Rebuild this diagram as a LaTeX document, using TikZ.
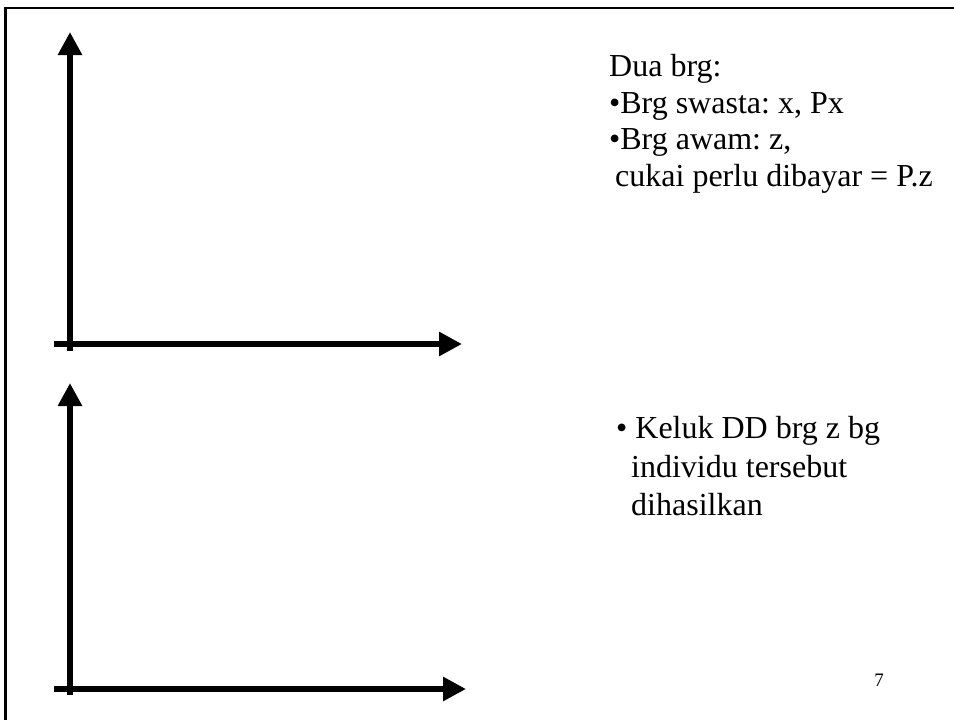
\documentclass[tikz,border=0pt]{standalone}
\usepackage{fontspec}
\setmainfont{Liberation Serif}
\usepackage{tikz}
\usetikzlibrary{positioning, arrows.meta}
\frenchspacing

\begin{document}
\begin{tikzpicture}[x=1pt, y=-1pt,
	axis/.style={line width=6pt, -{Triangle[length=23pt, width=23pt]}},
	txt/.style={anchor=base west, inner sep=0pt, font=\fontsize{32}{37}\selectfont},
	pagenum/.style={anchor=base, inner sep=0pt, font=\fontsize{19}{20}\selectfont}]
	\useasboundingbox (0,0) rectangle (954,720);
	\draw[line width=2.5pt] (5.5,720) -- (5.5,8) -- (954,8);
	\coordinate (ytopA) at (70,32);
	\coordinate (ybotA) at (70,351);
	\coordinate (xleftA) at (54,344);
	\coordinate (xrightA) at (462,344);
	\coordinate (ytopB) at (70,383);
	\coordinate (ybotB) at (70,695);
	\coordinate (xleftB) at (54,689);
	\coordinate (xrightB) at (466,689);
	\draw[axis] (ybotA) -- (ytopA);
	\draw[axis] (xleftA) -- (xrightA);
	\draw[axis] (ybotB) -- (ytopB);
	\draw[axis] (xleftB) -- (xrightB);
	\node[txt] (dua) at (609,76) {Dua brg:};
	\node[txt] (swasta) at (609,113) {\textbullet Brg swasta: x, Px};
	\node[txt] (awam) at (609,149) {\textbullet Brg awam: z,};
	\node[txt] (cukai) at (615,186) {cukai perlu dibayar = P.z};
	\node[txt] (keluk) at (616,438) {\textbullet\ Keluk DD brg z bg};
	\node[txt] (individu) at (631,477) {individu tersebut};
	\node[txt] (hasil) at (631,515) {dihasilkan};
	\node[pagenum] (num) at (879,686) {7};
\end{tikzpicture}
\end{document}
